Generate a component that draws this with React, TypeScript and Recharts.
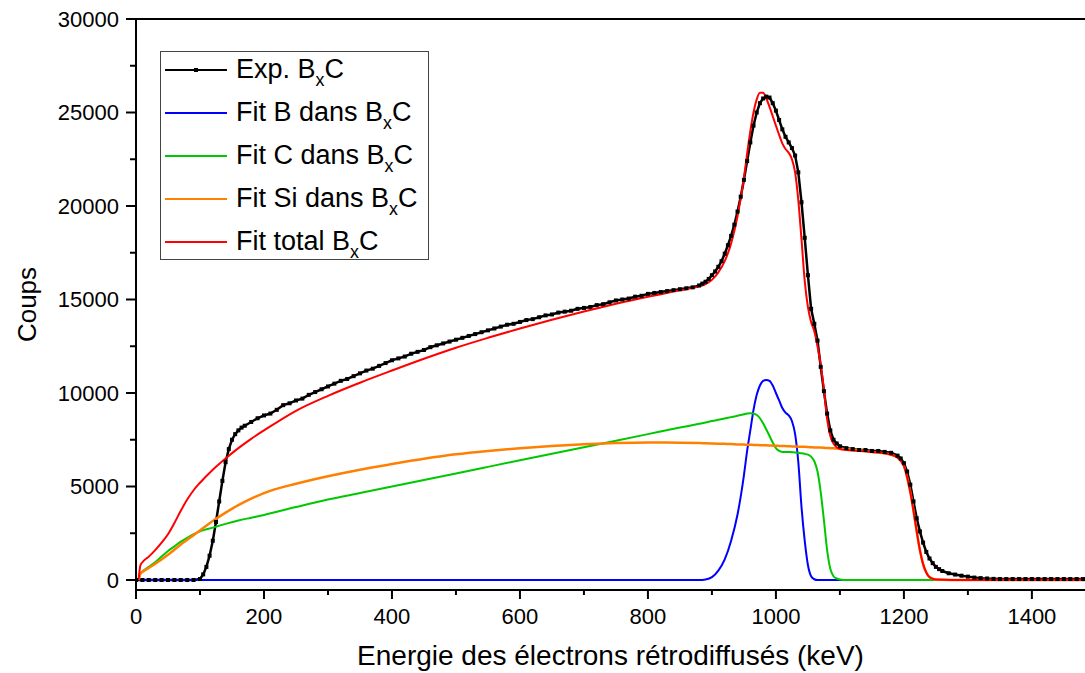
import React from 'react';
import { LineChart, Line, XAxis, YAxis, ReferenceLine } from 'recharts';

// energy grid helper for the channel positions (keV)
const steps = (from: number, to: number, step: number) => {
  const out: number[] = [];
  for (let v = from; v <= to + 1e-9; v += step) out.push(v);
  return out;
};

const expEnergy = [
  ...steps(0, 90, 10),
  ...steps(100, 170, 5),
  ...steps(180, 880, 10),
  ...steps(885, 1100, 5),
  ...steps(1110, 1190, 10),
  ...steps(1195, 1260, 5),
  ...steps(1270, 1480, 10),
];

const expCounts = [
  // 0..90
  0, 0, 0, 0, 0, 0, 0, 0, 0, 0,
  // 100..170
  50, 300, 700, 1300, 2100, 3100, 4200, 5300, 6300, 7000, 7500, 7800, 8000, 8150, 8250,
  // 180..880
  8450, 8650, 8800, 8900, 9100, 9350, 9450, 9600, 9700, 9900,
  10050, 10200, 10350, 10500, 10650, 10750, 10900, 11050, 11200, 11300,
  11450, 11600, 11750, 11850, 11950, 12100, 12200, 12300, 12450, 12550,
  12650, 12750, 12850, 12950, 13050, 13150, 13250, 13350, 13450, 13550,
  13650, 13700, 13800, 13900, 13950, 14050, 14150, 14200, 14300, 14350,
  14400, 14500, 14550, 14600, 14700, 14750, 14850, 14950, 15000, 15050,
  15150, 15200, 15300, 15350, 15400, 15450, 15500, 15550, 15600, 15650,
  15750,
  // 885..1100
  15850, 15950, 16100, 16300, 16500, 16750, 17050, 17450, 17900, 18400,
  19000, 19700, 20500, 21400, 22400, 23400, 24300, 25000, 25500, 25750,
  25850, 25800, 25500, 25100, 24600, 24100, 23700, 23400, 23100, 22700,
  21800, 20200, 18300, 16300, 14500, 13700, 12800, 11400, 10100, 8900,
  8000, 7500, 7300, 7150,
  // 1110..1190
  7050, 7000, 6950, 6950, 6900, 6900, 6850, 6800, 6650,
  // 1195..1260
  6500, 6250, 5800, 5100, 4200, 3300, 2600, 2000, 1500, 1150, 900, 700, 580, 480,
  // 1270..1480
  360, 290, 230, 180, 130, 100, 80, 60,
  50, 50, 50, 50, 50, 50, 50, 50, 50, 50, 50, 50, 50, 50,
];

const fitEnergy = [
  4, 7, 10,
  20, 30, 40, 50, 60, 70, 80, 90, 100,
  120, 140, 160, 180, 200,
  250, 300, 350, 400, 450, 500, 550, 600, 650, 700, 750, 800, 850,
  880, 890,
  900, 910, 920, 930, 940,
  950, 955, 960, 965, 970, 975, 980, 985, 990, 995, 1000,
  1005, 1010, 1015, 1020, 1025, 1030, 1035, 1040, 1045, 1050,
  1055, 1060, 1065, 1070, 1075, 1080, 1085, 1090, 1095, 1100,
  1110, 1150, 1180, 1190,
  1200, 1205, 1210, 1215, 1220, 1225, 1230, 1235, 1240,
  1250, 1300, 1400, 1483,
];

const fitB = [
  0, 0, 0,
  0, 0, 0, 0, 0, 0, 0, 0, 0,
  0, 0, 0, 0, 0,
  0, 0, 0, 0, 0, 0, 0, 0, 0, 0, 0, 0, 0,
  0, 30,
  150, 500, 1100, 2100, 3500,
  5600, 6900, 8000, 9100, 9900, 10400, 10650, 10700, 10650, 10400, 10000,
  9600, 9200, 8950, 8800, 8500, 7800, 6300, 3900, 2100, 800,
  200, 40, 0, 0, 0, 0, 0, 0, 0, 0,
  0, 0, 0, 0,
  0, 0, 0, 0, 0, 0, 0, 0, 0,
  0, 0, 0, 0,
];

const fitC = [
  0, 350, 450,
  700, 950, 1250, 1550, 1800, 2050, 2250, 2450, 2600,
  2800, 3000, 3180, 3330, 3480,
  3900, 4300, 4650, 5000, 5350, 5700, 6050, 6400, 6750, 7100, 7450, 7800, 8150,
  8350, 8420,
  8500, 8570, 8640, 8710, 8780,
  8860, 8900, 8920, 8900, 8820, 8650, 8380, 8050, 7700, 7350, 7050,
  6900, 6850, 6850, 6850, 6830, 6820, 6800, 6780, 6750, 6700,
  6600, 6350, 5800, 4700, 3200, 1600, 600, 200, 80, 30,
  0, 0, 0, 0,
  0, 0, 0, 0, 0, 0, 0, 0, 0,
  0, 0, 0, 0,
];

const fitSi = [
  0, 350, 430,
  650, 870, 1100, 1350, 1620, 1900, 2150, 2400, 2650,
  3150, 3600, 4000, 4350, 4650,
  5150, 5550, 5900, 6200, 6480, 6720, 6900, 7050, 7170, 7260, 7320, 7350, 7340,
  7320, 7310,
  7300, 7290, 7280, 7270, 7250,
  7240, 7235, 7230, 7225, 7220, 7210, 7205, 7200, 7190, 7185, 7180,
  7170, 7165, 7160, 7150, 7145, 7140, 7130, 7125, 7120, 7110,
  7100, 7090, 7085, 7080, 7070, 7060, 7050, 7040, 7030, 7020,
  7000, 6850, 6700, 6550,
  6100, 5500, 4700, 3700, 2600, 1600, 850, 400, 150,
  30, 0, 0, 0,
];

const fitTotal = [
  0, 800, 950,
  1250, 1600, 2000, 2450, 3050, 3700, 4300, 4800, 5200,
  5900, 6500, 7050, 7550, 8000,
  9050, 9850, 10550, 11200, 11830, 12420, 12950, 13450, 13920, 14360, 14770, 15150, 15490,
  15700, 15820,
  16050, 16450, 17050, 18000, 19450,
  21500, 22800, 24000, 25000, 25700, 26050, 26050, 25750, 25300, 24800, 24300,
  23800, 23350, 23050, 22850, 22500, 21800, 20300, 18200, 16000, 14600,
  13800, 13300, 12500, 11500, 10200, 8600, 7700, 7300, 7100, 7000,
  6950, 6850, 6700, 6550,
  6100, 5500, 4700, 3700, 2600, 1600, 850, 400, 150,
  30, 0, 0, 0,
];

const xTicks = [0, 100, 200, 300, 400, 500, 600, 700, 800, 900, 1000, 1100, 1200, 1300, 1400];
const yTicks = [0, 2500, 5000, 7500, 10000, 12500, 15000, 17500, 20000, 22500, 25000, 27500, 30000];

const legendRows = [
  { name: 'Exp. B', color: '#000000', marker: true },
  { name: 'Fit B dans B', color: '#0000ff', marker: false },
  { name: 'Fit C dans B', color: '#00c800', marker: false },
  { name: 'Fit Si dans B', color: '#ff8000', marker: false },
  { name: 'Fit total B', color: '#ff0000', marker: false },
];

const FONT = "'Liberation Sans', Arial, Helvetica, sans-serif";

const rowMap = new Map<number, any>();
const put = (e: number, key: string, v: number) => {
  const r = rowMap.get(e) ?? { energy: e };
  r[key] = v;
  rowMap.set(e, r);
};
expEnergy.forEach((e, i) => put(e, 'exp', expCounts[i]));
fitEnergy.forEach((e, i) => {
  put(e, 'b', fitB[i]);
  put(e, 'c', fitC[i]);
  put(e, 'si', fitSi[i]);
  put(e, 'total', fitTotal[i]);
});
const data = [...rowMap.values()].sort((a, b) => a.energy - b.energy);

const renderSquare = (props: any) => {
  const { cx, cy, index } = props;
  if (cx == null || cy == null || Number.isNaN(cy)) return <g key={`sq-${index}`} />;
  return <rect key={`sq-${index}`} x={cx - 2} y={cy - 2} width={4} height={4} fill="#000" />;
};

const renderXTick = (props: any) => {
  const { x, y, payload } = props;
  const major = payload.value % 200 === 0;
  return (
    <g>
      <line x1={x} x2={x} y1={y} y2={y + (major ? 9 : 5)} stroke="#000" strokeWidth={2} />
      {major && (
        <text x={x} y={y + 34} textAnchor="middle" fontSize={22} fill="#000" fontFamily={FONT}>
          {payload.value}
        </text>
      )}
    </g>
  );
};

const renderYTick = (props: any) => {
  const { x, y, payload } = props;
  const major = payload.value % 5000 === 0;
  return (
    <g>
      <line x1={x - (major ? 10 : 6)} x2={x} y1={y} y2={y} stroke="#000" strokeWidth={2} />
      {major && (
        <text x={x - 17} y={y} dy="0.36em" textAnchor="end" fontSize={22} fill="#000" fontFamily={FONT}>
          {payload.value}
        </text>
      )}
    </g>
  );
};

function ChartLegend() {
  return (
    <div
      style={{
        position: 'absolute',
        left: 160,
        top: 51,
        width: 269,
        height: 209,
        border: '1px solid #444',
        background: '#fff',
        boxSizing: 'border-box',
      }}
    >
      {legendRows.map((row, i) => (
        <div key={row.name} style={{ position: 'absolute', left: 0, top: 3 + i * 43, height: 30, width: 268 }}>
          <div style={{ position: 'absolute', left: 4, width: 62, top: 14, height: 2, background: row.color }} />
          {row.marker && (
            <div style={{ position: 'absolute', left: 33, width: 4, top: 13, height: 4, background: row.color }} />
          )}
          <div style={{ position: 'absolute', left: 75, top: -1, fontSize: 27, lineHeight: '30px', whiteSpace: 'nowrap', color: '#000' }}>
            {row.name}
            <span style={{ fontSize: '0.66em', position: 'relative', top: '0.45em' }}>x</span>C
          </div>
        </div>
      ))}
    </div>
  );
}

export default function App() {
  return (
    <div style={{ position: 'relative', width: 1085, height: 673, fontFamily: FONT, background: '#fff' }}>
      <style>{'body{margin:0;overflow:hidden;background:#fff}'}</style>
      <LineChart width={1085} height={673} data={data} margin={{ top: 19, right: 0, bottom: 0, left: 0 }}>
        <XAxis
          dataKey="energy"
          type="number"
          domain={[0, 1483]}
          allowDataOverflow
          ticks={xTicks}
          interval={0}
          height={83}
          tickSize={0}
          tickMargin={0}
          tickLine={false}
          stroke="#000"
          axisLine={{ stroke: '#000', strokeWidth: 2 }}
          tick={renderXTick}
          label={{
            value: 'Energie des électrons rétrodiffusés (keV)',
            position: 'insideBottom',
            offset: 8,
            fontSize: 28,
            fill: '#000',
          }}
        />
        <YAxis
          type="number"
          domain={[-535, 30000]}
          allowDataOverflow
          ticks={yTicks}
          interval={0}
          width={136}
          tickSize={0}
          tickMargin={0}
          tickLine={false}
          stroke="#000"
          axisLine={{ stroke: '#000', strokeWidth: 2 }}
          tick={renderYTick}
          label={{
            value: 'Coups',
            angle: -90,
            position: 'insideLeft',
            offset: 27,
            fontSize: 26,
            fill: '#000',
            style: { textAnchor: 'middle' },
          }}
        />
        <ReferenceLine y={30000} stroke="#000" strokeWidth={2} />
        <Line
          type="linear"
          dataKey="exp"
          stroke="#000"
          strokeWidth={2.5}
          dot={renderSquare}
          connectNulls
          isAnimationActive={false}
        />
        <Line type="monotone" dataKey="b" stroke="#0000ff" strokeWidth={2} dot={false} connectNulls isAnimationActive={false} />
        <Line type="monotone" dataKey="c" stroke="#00c800" strokeWidth={2} dot={false} connectNulls isAnimationActive={false} />
        <Line type="monotone" dataKey="si" stroke="#ff8000" strokeWidth={2.5} dot={false} connectNulls isAnimationActive={false} />
        <Line type="monotone" dataKey="total" stroke="#ff0000" strokeWidth={2} dot={false} connectNulls isAnimationActive={false} />
      </LineChart>
      <ChartLegend />
    </div>
  );
}
